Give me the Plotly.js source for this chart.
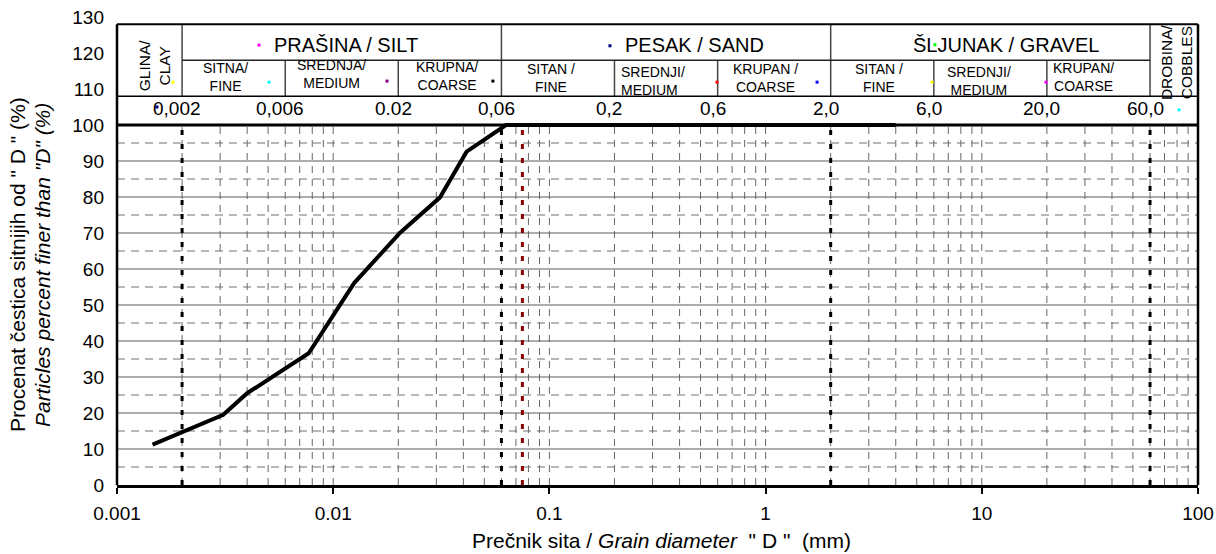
<!DOCTYPE html>
<html><head><meta charset="utf-8">
<script src="https://cdn.plot.ly/plotly-3.0.1.min.js"></script>
<style>html,body{margin:0;padding:0;background:#fff}#chart{width:1216px;height:554px}</style>
</head><body><div id="chart"></div>
<script>
// ---------- data ----------
const diameterMm   = [0.00146, 0.0031, 0.004, 0.0077, 0.0125, 0.0204, 0.0312, 0.0414, 0.063, 0.125, 0.25, 0.5, 1, 2, 4];
const percentFiner = [11.2, 19.5, 25.5, 36.6, 56.1, 70.1, 79.9, 92.6, 100, 100, 100, 100, 100, 100, 100];

const mainBounds  = [0.002, 0.06, 2, 60];
const subBounds   = [0.006, 0.02, 0.2, 0.6, 6, 20];
const sieveBound  = [0.075];

const boundValues = [0.002, 0.006, 0.02, 0.06, 0.2, 0.6, 2, 6, 20, 60];
const boundLabels = ['0,002', '0,006', '0.02', '0,06', '0,2', '0,6', '2,0', '6,0', '20,0', '60,0'];

const groupLabels = ['PRAŠINA / SILT', 'PESAK / SAND', 'ŠLJUNAK / GRAVEL'];
const subLabels   = ['SITNA/<br>FINE', 'SREDNJA/<br>MEDIUM', 'KRUPNA/<br>COARSE',
                     'SITAN /<br>FINE', 'SREDNJI/<br>MEDIUM', 'KRUPAN /<br>COARSE',
                     'SITAN /<br>FINE', 'SREDNJI/<br>MEDIUM', 'KRUPAN/<br>COARSE'];
const sideLabels  = ['GLINA/<br>CLAY', 'DROBINA/<br>COBBLES'];

const xTickVals = [0.001, 0.01, 0.1, 1, 10, 100];
const xTickText = ['0.001', '0.01', '0.1', '1', '10', '100'];
const yTickVals = [0, 10, 20, 30, 40, 50, 60, 70, 80, 90, 100, 110, 120, 130];
const ySolidGrid = [10, 20, 30, 40, 50, 60, 70, 80, 90];
const yDashGrid  = [5, 15, 25, 35, 45, 55, 65, 75, 85, 95];

const yTitle1 = 'Procenat čestica sitnijih od " D " (%)';
const yTitle2 = '<i>Particles percent finer than "D" (%)</i>';
const xTitle  = 'Prečnik sita / <i>Grain diameter</i>  " D "  (mm)';

// small label-anchor markers seen in the header
const anchorX = [0.00454, 0.001815, 0.00505, 0.01774, 0.0548, 0.00153, 0.1906, 0.596, 1.73, 5.89, 19.8, 6.07, 81.7];
const anchorY = [122.2, 111.9, 111.9, 112.2, 112.2, 105.0, 122.0, 111.9, 111.9, 111.9, 111.9, 122.3, 104.2];

// ---------- positions / styles (layout only) ----------
const anchorColors = ['#ff00ff', '#ffff00', '#00ffff', '#800080', '#000000', '#000080', '#000080',
                      '#ff0000', '#0000ff', '#ffff00', '#ff00ff', '#00ff00', '#00ffff'];
const groupPosX = [0.0114, 0.468, 12.9];
const groupPosY = 122.2;
const subPosX = [0.00316, 0.00977, 0.0336, 0.1017, 0.2099, 1.0, 3.345, 9.70, 29.4];
const subPosY = [113.2, 114.2, 113.6, 113.0, 112.3, 113.0, 113.0, 112.3, 113.4];
const subAnchor = ['center','center','center','center','left','center','center','center','center'];
const sidePosX = [0.001483, 79.5];
const sidePosY = [116.6, 117.6];
const numRowY = 104.7;
const ROW_TOP = 128, ROW_MID = 118, ROW_LOW = 108, PLOT_TOP = 100;
const X_MIN = xTickVals[0], X_MAX = xTickVals[xTickVals.length - 1];

const FONT = 'Liberation Sans, Arial, sans-serif';
const L = Math.log10;

// ---------- helpers ----------
function vSegments(vals, y0, y1) {
  const x = [], y = [];
  vals.forEach(v => { x.push(v, v, null); y.push(y0, y1, null); });
  return {x, y};
}
function hSegments(vals, x0, x1) {
  const x = [], y = [];
  vals.forEach(v => { x.push(x0, x1, null); y.push(v, v, null); });
  return {x, y};
}
function lineTrace(seg, line) {
  return {x: seg.x, y: seg.y, mode: 'lines', hoverinfo: 'skip', showlegend: false, line: line};
}

// grid positions inside the plot body (0..100)
const vGridVals = [];
xTickVals.slice(0, -1).forEach((d, i) => {
  for (let k = 1; k <= 9; k++) { if (!(i === 0 && k === 1)) vGridVals.push(d * k); }
});

const traces = [];
// grid
traces.push(lineTrace(vSegments(vGridVals, 0, PLOT_TOP), {color: '#666', width: 1, dash: '7px,6px'}));
traces.push(lineTrace(hSegments(yDashGrid, X_MIN, X_MAX), {color: '#707070', width: 1, dash: '8px,6px'}));
traces.push(lineTrace(hSegments(ySolidGrid, X_MIN, X_MAX), {color: '#5a5a5a', width: 1}));

// dotted boundary lines in the plot body
traces.push(lineTrace(vSegments(mainBounds, 0, PLOT_TOP), {color: '#000', width: 3, dash: '5px,9px'}));
traces.push(lineTrace(vSegments(sieveBound, 0, PLOT_TOP), {color: '#8b0000', width: 3, dash: '5px,9px'}));

// header lines
traces.push(lineTrace(vSegments(mainBounds, ROW_LOW, ROW_TOP), {color: '#444', width: 1.5}));
traces.push(lineTrace(vSegments(subBounds, ROW_LOW, ROW_MID), {color: '#444', width: 1.5}));
traces.push(lineTrace(hSegments([ROW_MID], mainBounds[0], mainBounds[mainBounds.length - 1]), {color: '#222', width: 1.5}));

// grading curve
traces.push({x: diameterMm, y: percentFiner, mode: 'lines', showlegend: false,
  line: {color: '#000', width: 4}});

// tiny anchor markers
traces.push({x: anchorX, y: anchorY, mode: 'markers', hoverinfo: 'skip', showlegend: false,
  marker: {symbol: 'square', size: 3, color: anchorColors, line: {width: 0}}});

// ---------- annotations ----------
const ann = [];
groupLabels.forEach((t, i) => ann.push({x: L(groupPosX[i]), y: groupPosY, xref: 'x', yref: 'y',
  text: t, showarrow: false, xanchor: 'center', yanchor: 'middle', font: {family: FONT, size: 20, color: '#000'}}));
subLabels.forEach((t, i) => ann.push({x: L(subPosX[i]), y: subPosY[i], xref: 'x', yref: 'y',
  text: t, showarrow: false, xanchor: subAnchor[i], align: subAnchor[i], yanchor: 'middle',
  font: {family: FONT, size: 14, color: '#000'}}));
sideLabels.forEach((t, i) => ann.push({x: L(sidePosX[i]), y: sidePosY[i], xref: 'x', yref: 'y',
  text: t, showarrow: false, textangle: -90, xanchor: 'center', yanchor: 'middle',
  font: {family: FONT, size: 15.5, color: '#000'}}));
boundLabels.forEach((t, i) => ann.push({x: L(boundValues[i]), y: numRowY, xref: 'x', yref: 'y',
  text: t, showarrow: false, xanchor: 'center', yanchor: 'middle', xshift: -5,
  font: {family: FONT, size: 19, color: '#000'}}));
// axis titles
ann.push({xref: 'paper', yref: 'paper', x: -0.0925, y: 0.47, xanchor: 'center', yanchor: 'middle',
  textangle: -90, showarrow: false, text: yTitle1, font: {family: FONT, size: 21, color: '#000'}});
ann.push({xref: 'paper', yref: 'paper', x: -0.0695, y: 0.47, xanchor: 'center', yanchor: 'middle',
  textangle: -90, showarrow: false, text: yTitle2, font: {family: FONT, size: 21, color: '#000'}});
ann.push({xref: 'paper', yref: 'paper', x: 0.504, y: -0.119, xanchor: 'center', yanchor: 'middle',
  showarrow: false, text: xTitle, font: {family: FONT, size: 21, color: '#000'}});

// ---------- shapes (frame) ----------
const shapes = [
  {type: 'line', xref: 'paper', yref: 'y', x0: 0, x1: 0, y0: 0, y1: ROW_TOP, line: {color: '#000', width: 2.5}},
  {type: 'line', xref: 'paper', yref: 'y', x0: 1, x1: 1, y0: 0, y1: ROW_TOP, line: {color: '#000', width: 2.5}},
  {type: 'line', xref: 'paper', yref: 'y', x0: 0, x1: 1, y0: ROW_TOP, y1: ROW_TOP, line: {color: '#000', width: 2}},
  {type: 'line', xref: 'paper', yref: 'y', x0: 0, x1: 1, y0: ROW_LOW, y1: ROW_LOW, line: {color: '#000', width: 1.5}},
  {type: 'line', xref: 'paper', yref: 'y', x0: 0, x1: 1, y0: PLOT_TOP, y1: PLOT_TOP, line: {color: '#000', width: 3}}
];

const layout = {
  width: 1216, height: 554,
  margin: {l: 117, r: 18, t: 17, b: 69},
  paper_bgcolor: '#fff', plot_bgcolor: '#fff',
  font: {family: FONT, size: 19, color: '#000'},
  showlegend: false,
  xaxis: {
    type: 'log', range: [L(X_MIN), L(X_MAX)], tickmode: 'array', tickvals: xTickVals, ticktext: xTickText,
    showline: true, linecolor: '#000', linewidth: 3,
    ticks: 'outside', ticklen: 6, tickwidth: 2, tickcolor: '#000', ticklabelstandoff: 3,
    showgrid: false, zeroline: false, tickfont: {family: FONT, size: 19, color: '#000'}
  },
  yaxis: {
    range: [0, 130], tickmode: 'array', tickvals: yTickVals, showline: false, zeroline: false,
    ticks: '', ticklabelstandoff: 12, showgrid: false,
    tickfont: {family: FONT, size: 19, color: '#000'}
  },
  shapes: shapes,
  annotations: ann
};

Plotly.newPlot('chart', traces, layout, {staticPlot: true, displayModeBar: false});
</script></body></html>
